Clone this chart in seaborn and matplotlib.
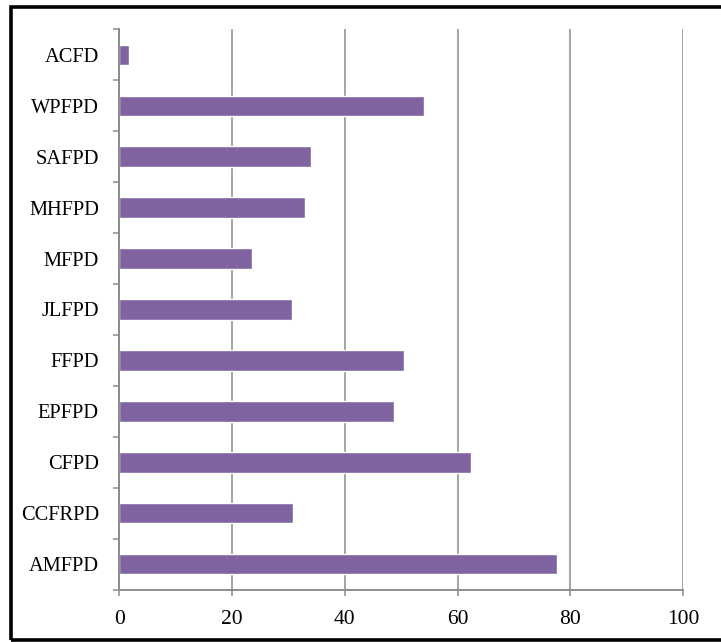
import matplotlib
matplotlib.use("Agg")
import matplotlib.pyplot as plt
from matplotlib.patches import Rectangle
import numpy as np
import pandas as pd
import seaborn as sns

# Categories from top to bottom and their values
categories = ["ACFD", "WPFPD", "SAFPD", "MHFPD", "MFPD", "JLFPD",
              "FFPD", "EPFPD", "CFPD", "CCFRPD", "AMFPD"]
values = [1.7, 54.1, 34.0, 33.0, 23.5, 30.6, 50.5, 48.8, 62.4, 30.8, 77.6]
x_ticks = [0, 20, 40, 60, 80, 100]

BAR_COLOR = "#8064A2"
GRID_COLOR = "#8C8C8C"

sns.set_theme(style="white")
plt.rcParams["font.family"] = ["Liberation Serif", "DejaVu Serif"]

df = pd.DataFrame({"name": categories, "value": values})

fig = plt.figure(figsize=(7.21, 6.42), dpi=100)
ax = fig.add_axes([0.1655, 0.0815, 0.9473 - 0.1655, 0.9544 - 0.0815])

sns.barplot(data=df, x="value", y="name", order=categories, orient="h",
            color=BAR_COLOR, saturation=1, width=0.4, ax=ax)

ax.set_xlim(0, 100)
ax.set_ylim(len(categories) - 0.5, -0.5)
ax.set_xlabel("")
ax.set_ylabel("")

# Vertical gridlines at each major value
ax.set_xticks(x_ticks)
ax.set_xticklabels([str(t) for t in x_ticks], fontsize=15.5, color="black")
ax.xaxis.grid(True, color=GRID_COLOR, linewidth=1.1)
ax.yaxis.grid(False)
ax.set_axisbelow(True)

# Category labels centred on bars, tick marks between categories
ax.set_yticks(np.arange(len(categories)))
ax.set_yticklabels(categories, fontsize=14.7, color="black")
ax.set_yticks(np.arange(len(categories) + 1) - 0.5, minor=True)

ax.tick_params(axis="x", which="major", direction="out", length=4.3,
               width=1.1, color=GRID_COLOR, pad=10, bottom=True)
ax.tick_params(axis="y", which="major", length=0, pad=14.6, left=True)
ax.tick_params(axis="y", which="minor", direction="out", length=4.3,
               width=1.1, color=GRID_COLOR, left=True)

for side in ["top", "right"]:
    ax.spines[side].set_visible(False)
for side in ["left", "bottom"]:
    ax.spines[side].set_color(GRID_COLOR)
    ax.spines[side].set_linewidth(1.4)

# Black frame around the whole chart
W, H = 721, 642
frame = Rectangle((10.5 / W, 1 - 639.5 / H), 1.2, (639.5 - 7) / H,
                  transform=fig.transFigure, fill=False,
                  edgecolor="black", linewidth=2.6, clip_on=False)
fig.patches.append(frame)

fig.savefig("out.png", dpi=100, facecolor="white")
